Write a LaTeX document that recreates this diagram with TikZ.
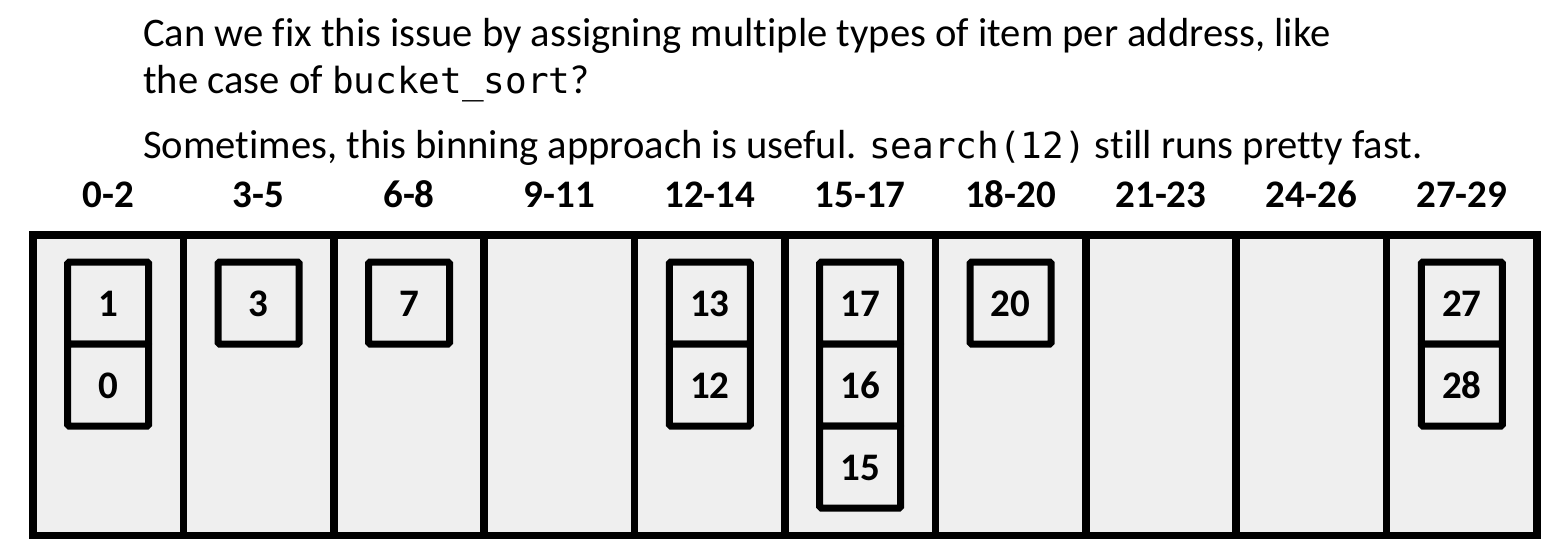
\documentclass[tikz,border=0pt]{standalone}
\usepackage{fontspec}
\setmainfont{Carlito}[Ligatures=NoCommon]
\newfontfamily\codefont{DejaVu Sans Mono}
\definecolor{cellgray}{HTML}{EFEFEF}
\begin{document}
\begin{tikzpicture}[x=1pt,y=-1pt,
  cell/.style={draw,line width=7.5pt,fill=cellgray,minimum width=150.4pt,minimum height=300.5pt,inner sep=0pt,outer sep=0pt},
  item/.style={draw,line width=7pt,fill=cellgray,minimum width=81pt,minimum height=82pt,inner sep=0pt,rounded corners=1.5pt},
  num/.style={anchor=base,inner sep=0pt,font=\fontsize{39}{42}\selectfont\bfseries},
  hdr/.style={anchor=base,font=\fontsize{39}{42}\selectfont\bfseries,inner sep=0pt},
  txt/.style={anchor=base west,inner sep=0pt,font=\fontsize{40.6}{46}\selectfont}]
\newcommand\cd[1]{{\codefont\fontsize{36}{42}\selectfont #1}}
\path[use as bounding box] (0,0) rectangle (1556,552);
\node[txt] (l1) at (143,46.7) {Can we fix this issue by assigning multiple types of item per address, like};
\node[txt] (l2) at (143,93) {the case of \cd{bucket\_sort}?};
\node[txt] (l3) at (143,158) {Sometimes, this binning approach is useful. \cd{search(12)} still runs pretty fast.};
\foreach \i/\lab in {0/0-2,1/3-5,2/6-8,3/9-11,4/12-14,5/15-17,6/18-20,7/21-23,8/24-26,9/27-29}{
  \node[cell] (c\i) at (108.2+150.4*\i,385.25) {};
  \node[hdr] (h\i) at (108.2+150.4*\i,207) {\lab};
}
\foreach \i/\r/\v in {0/0/1,0/1/0,1/0/3,2/0/7,4/0/13,4/1/12,5/0/17,5/1/16,5/2/15,6/0/20,9/0/27,9/1/28}{
  \node[item] (b\v) at (108.2+150.4*\i,303+82*\r) {};
  \node[num] (n\v) at ([yshift=-13pt]b\v.center) {\v};
}
\end{tikzpicture}
\end{document}
